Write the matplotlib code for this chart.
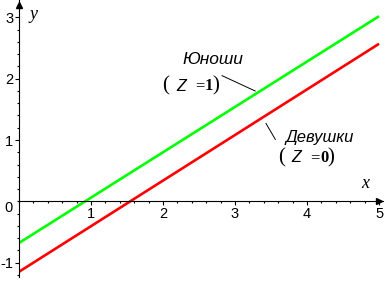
import numpy as np
import matplotlib
matplotlib.use("Agg")
import matplotlib.pyplot as plt
from matplotlib.ticker import MultipleLocator, FixedLocator

plt.rcParams['axes.unicode_minus'] = False

# data
x_ends = [0, 5]
boys_y = [-0.68, 3.02]    # Юноши (Z = 1)
girls_y = [-1.15, 2.57]   # Девушки (Z = 0)
x_ticks = [1, 2, 3, 4, 5]
y_ticks = [-1, 1, 2, 3]

fig = plt.figure(figsize=(3.88, 2.88), dpi=100)
ax = fig.add_axes([0.049, 0.0372, 0.939, 0.9618])
ax.set_xlim(0, 5.06)
ax.set_ylim(-1.24, 3.28)

ax.plot(x_ends, boys_y, color='#00ff00', lw=1.9, solid_capstyle='butt')
ax.plot(x_ends, girls_y, color='#ff0000', lw=1.9, solid_capstyle='butt')

for s in ['top', 'right']:
    ax.spines[s].set_visible(False)
ax.spines['left'].set_position(('data', 0))
ax.spines['bottom'].set_position(('data', 0))
ax.spines['left'].set_linewidth(0.8)
ax.spines['bottom'].set_linewidth(0.8)

ax.xaxis.set_major_locator(FixedLocator(x_ticks))
ax.yaxis.set_major_locator(FixedLocator(y_ticks))
ax.xaxis.set_minor_locator(MultipleLocator(0.2))
ax.yaxis.set_minor_locator(MultipleLocator(0.2))
ax.tick_params(which='major', direction='out', length=3, width=0.8,
               labelsize=10.5, pad=1)
ax.tick_params(which='minor', direction='out', length=1.5, width=0.8)
for lab in ax.get_xticklabels() + ax.get_yticklabels():
    lab.set_family('Liberation Sans')

# arrows at axis ends
ax.plot([5.0], [0], marker='>', ms=5, color='black', clip_on=False)
ax.plot([0], [3.2], marker='^', ms=5, color='black', clip_on=False)

ax.annotate('0', xy=(0, 0), xytext=(-7.5, -4.5), textcoords='offset points',
            ha='center', va='center', fontsize=10.5, family='Liberation Sans')

ax.text(4.81, 0.29, 'x', fontsize=13, family='Liberation Serif',
        style='italic', ha='center', va='center')
ax.text(0.2, 3.04, 'y', fontsize=13, family='Liberation Serif',
        style='italic', ha='center', va='center')


def z_label(x0, y0, val):
    # "(Z = val)" built from pieces, parens taller than the rest
    ax.text(x0, y0, '(', fontsize=15, family='Liberation Serif',
            ha='center', va='center')
    ax.text(x0 + 0.21, y0, 'Z', fontsize=11.5, family='Liberation Sans',
            style='italic', ha='center', va='center')
    ax.text(x0 + 0.47, y0, '=', fontsize=12, family='Liberation Serif',
            ha='center', va='center')
    ax.text(x0 + 0.60, y0, val, fontsize=12, family='Liberation Serif',
            weight='bold', ha='center', va='center')
    ax.text(x0 + 0.69, y0, ')', fontsize=15, family='Liberation Serif',
            ha='center', va='center')


# labels with leader lines
ax.text(2.69, 2.31, 'Юноши', fontsize=12.5, family='Liberation Sans',
        style='italic', ha='center', va='center')
z_label(2.04, 1.88, '1')
ax.plot([2.82, 3.28], [2.05, 1.80], color='black', lw=0.7)

ax.text(4.18, 1.04, 'Девушки', fontsize=12, family='Liberation Sans',
        style='italic', ha='center', va='center')
z_label(3.64, 0.71, '0')
ax.plot([3.43, 3.56], [1.27, 1.01], color='black', lw=0.7)

fig.savefig('out.png', dpi=100)
